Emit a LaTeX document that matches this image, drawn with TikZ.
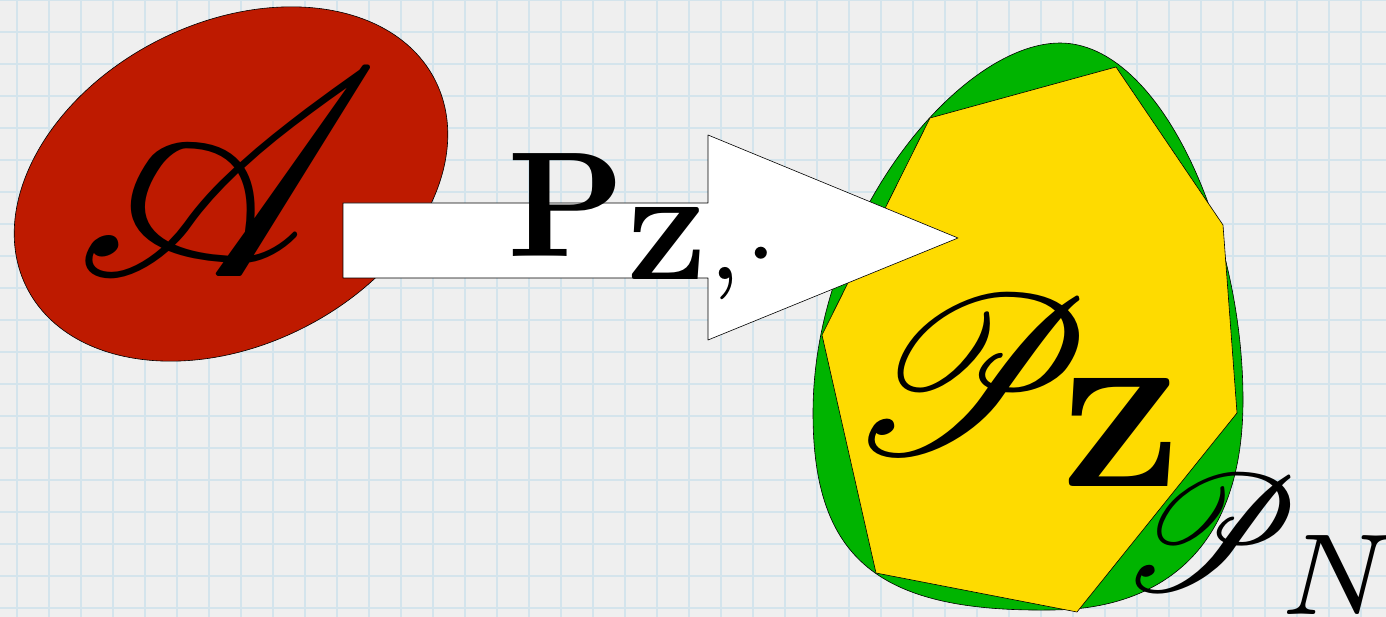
\documentclass[tikz,border=0pt]{standalone}
\usepackage{amsmath,amssymb,mathrsfs}
\usepackage{tikz}
\usepackage{xcolor}
\definecolor{cPaper}{HTML}{EFEFEF}
\definecolor{cGrid}{HTML}{D4E4EC}
\definecolor{cRed}{HTML}{BE1A00}
\definecolor{cGreen}{HTML}{00B400}
\definecolor{cYellow}{HTML}{FEDB00}
\definecolor{cInk}{HTML}{000000}
\tikzset{
  gridline/.style={cGrid,line width=2pt},
  blob/.style    ={draw=cInk,line width=0.6pt,line join=round},
  lbl/.style     ={inner sep=0pt,anchor=base west,text=cInk},
}

\begin{document}
\begin{tikzpicture}[x=1pt,y=-1pt]
\useasboundingbox (0,0) rectangle (1386,617);
\clip (0,0) rectangle (1386,617);
\fill[cPaper] (0,0) rectangle (1386,617);
% squared paper
\foreach \i in {0,...,43} \draw[gridline] (17+32*\i,0) -- (17+32*\i,617);
\foreach \j in {0,...,19} \draw[gridline] (0,32*\j) -- (1386,32*\j);
% the set A
\draw[blob,fill=cRed,rotate around={27:(231,184)}] (231,184)
  ellipse [x radius=229,y radius=161];
\node[lbl,scale=29.5] (setA) at (70,277) {$\mathscr{A}$};
% the egg and its polytope
\draw[blob,fill=cGreen] (1060,43) .. controls (1160,43) and (1243,230) .. (1243,400)
  .. controls (1243,560) and (1150,610) .. (1050,610)
  .. controls (880,612) and (813,560) .. (813,413)
  .. controls (813,220) and (960,43) .. cycle;
\draw[blob,fill=cYellow] (930,118) -- (1116,67) -- (1223,225) -- (1237,413)
  -- (1077,612) -- (876,573) -- (822,335) -- cycle;
% the map
\draw[blob,fill=white] (343,203) -- (708,203) -- (708,135) -- (958,238)
  -- (708,340) -- (708,278) -- (343,278) -- cycle;
\node[lbl,scale=15] (mapP) at (504,257) {$\mathbf{P}_{\mathbf{Z},\cdot}$};
\node[lbl,scale=22.5] (setPZ) at (843,453) {$\mathscr{P}_{\mkern-1.7mu\mathbf{Z}}$};
\node[lbl,scale=16.5] (setPN) at (1117,590) {$\mathscr{P}_{\mkern-1mu N}$};
\end{tikzpicture}
\end{document}
